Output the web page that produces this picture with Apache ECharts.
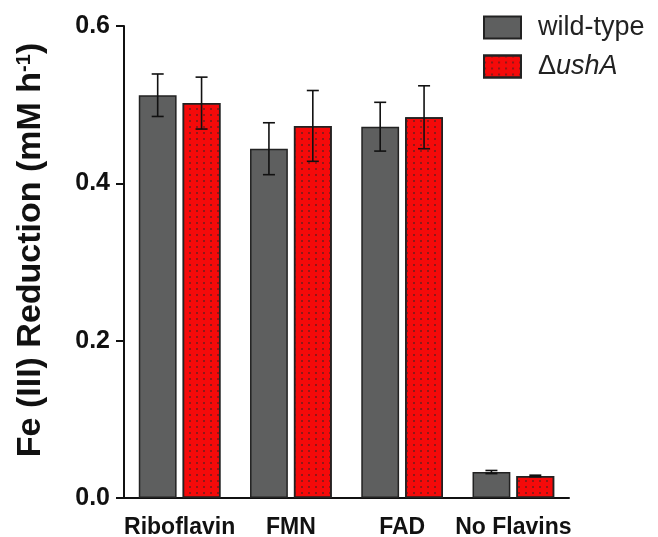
<!DOCTYPE html>
<html><head><meta charset="utf-8">
<script src="https://cdn.jsdelivr.net/npm/echarts@6/dist/echarts.min.js"></script>
<style>html,body{margin:0;padding:0;background:#fff}#c{width:658px;height:537px}</style>
</head><body><div id="c"></div>
<script>
const categories = ['Riboflavin', 'FMN', 'FAD', 'No Flavins'];
const wildType = [0.512, 0.444, 0.472, 0.033];
const wildTypeErr = [0.027, 0.033, 0.031, 0.002];
const ushA = [0.502, 0.473, 0.484, 0.028];
const ushAErr = [0.033, 0.045, 0.040, 0.001];
const yTicks = [0.0, 0.2, 0.4, 0.6];

const BAR_W = 0.34, GAP = 0.16;
const FONT = 'Liberation Sans, Arial, sans-serif';
const chart = echarts.init(document.getElementById('c'));
function errSeries(name, vals, errs, side) {
  return {
    type: 'custom', name: name + ' err', silent: true, z: 10,
    renderItem: function (params, api) {
      const i = api.value(0);
      const band = api.size([1, 0])[0];
      const off = side * band * (BAR_W + BAR_W * GAP) / 2;
      const hi = api.coord([i, api.value(2)]);
      const lo = api.coord([i, api.value(1)]);
      const x = hi[0] + off;
      const cap = 6;
      const st = { stroke: '#111', lineWidth: 1.6 };
      return { type: 'group', children: [
        { type: 'line', shape: { x1: x, y1: hi[1], x2: x, y2: lo[1] }, style: st },
        { type: 'line', shape: { x1: x - cap, y1: hi[1], x2: x + cap, y2: hi[1] }, style: st },
        { type: 'line', shape: { x1: x - cap, y1: lo[1], x2: x + cap, y2: lo[1] }, style: st }
      ]};
    },
    data: vals.map((v, i) => [i, v - errs[i], v + errs[i]])
  };
}
const bold = { fontFamily: FONT, fontWeight: 'bold', color: '#111' };
chart.setOption({
  animation: false,
  grid: { left: 124, right: 89, top: 26, bottom: 39, containLabel: false, outerBoundsMode: 'none' },
  legend: {
    orient: 'vertical', left: 483, top: 14, padding: 0, itemWidth: 37, itemHeight: 22, itemGap: 12,
    icon: 'rect',
    data: ['wild-type', 'ΔushA'],
    textStyle: { fontFamily: FONT, fontSize: 27, color: '#222', padding: [0, 0, 0, 12],
      rich: { n: { fontSize: 27, fontFamily: FONT, color: '#222' },
              i: { fontSize: 27, fontStyle: 'italic', fontFamily: FONT, color: '#222' } } },
    formatter: function (n) { return n === 'ΔushA' ? '{n|Δ}{i|ushA}' : n; }
  },
  xAxis: {
    type: 'category', data: categories,
    axisLine: { lineStyle: { color: '#111', width: 2 } },
    axisTick: { alignWithLabel: true, length: 10, lineStyle: { color: '#111', width: 2 } },
    axisLabel: Object.assign({ fontSize: 23, margin: 18, interval: 0 }, bold)
  },
  yAxis: {
    type: 'value', min: 0, max: 0.6, interval: 0.2,
    name: 'Fe (III) Reduction (mM h{s|-1})', nameLocation: 'middle', nameGap: 76, nameRotate: 90,
    nameTextStyle: Object.assign({ fontSize: 34, padding: [0, 0, 0, 24],
      rich: { s: { fontSize: 20, fontWeight: 'bold', verticalAlign: 'top', padding: [0, 0, 14, 0], fontFamily: FONT, color: '#111' } } }, bold),
    axisLine: { show: true, lineStyle: { color: '#111', width: 2 } },
    axisTick: { show: true, length: 8, lineStyle: { color: '#111', width: 2 } },
    splitLine: { show: false },
    axisLabel: Object.assign({ fontSize: 25, margin: 14, formatter: v => v.toFixed(1) }, bold)
  },
  series: [
    { name: 'wild-type', type: 'bar', data: wildType, barWidth: (BAR_W * 100) + '%', barGap: (GAP * 100) + '%',
      itemStyle: { color: '#5e5f5f', borderColor: '#222', borderWidth: 1.5 } },
    { name: 'ΔushA', type: 'bar', data: ushA, barWidth: (BAR_W * 100) + '%',
      itemStyle: { color: '#f50a0a', borderColor: '#222', borderWidth: 1.5,
        decal: { symbol: 'rect', symbolSize: 1, dashArrayX: [1.5, 4.5], dashArrayY: [1.5, 3.5], color: 'rgba(110,30,30,0.75)' } } },
    errSeries('wild-type', wildType, wildTypeErr, -1),
    errSeries('ΔushA', ushA, ushAErr, 1)
  ]
});
</script></body></html>
